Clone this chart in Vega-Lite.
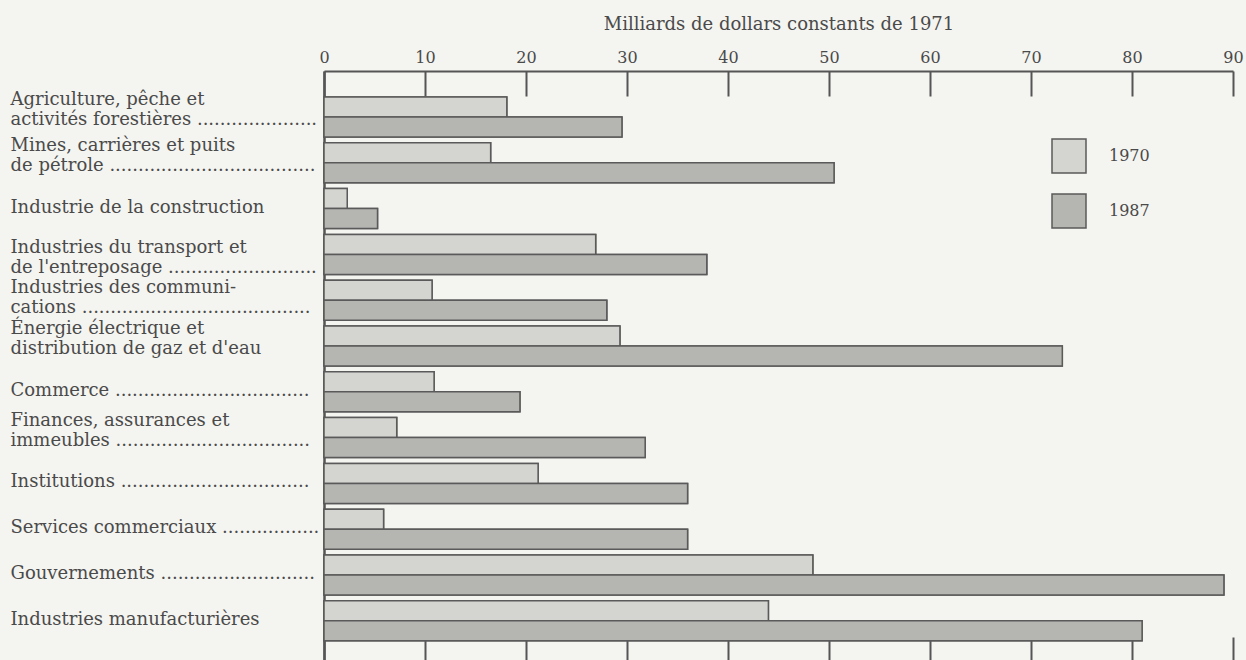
{
  "$schema": "https://vega.github.io/schema/vega-lite/v6.json",
  "width": 909,
  "height": 589,
  "autosize": {"type": "none"},
  "padding": {"left": 324, "top": 71, "right": 13, "bottom": 0},
  "background": "#f4f4f0",
  "config": {
    "view": {"stroke": null},
    "font": "DejaVu Serif",
    "text": {"font": "DejaVu Serif"}
  },
  "data": {
    "values": [
      {"cat": "Agriculture, pêche et|activités forestières  .....................", "year": "1970", "value": 18.1},
      {"cat": "Agriculture, pêche et|activités forestières  .....................", "year": "1987", "value": 29.5},
      {"cat": "Mines, carrières et  puits|de pétrole ....................................", "year": "1970", "value": 16.5},
      {"cat": "Mines, carrières et  puits|de pétrole ....................................", "year": "1987", "value": 50.5},
      {"cat": "Industrie de la construction", "year": "1970", "value": 2.3},
      {"cat": "Industrie de la construction", "year": "1987", "value": 5.3},
      {"cat": "Industries du transport et|de l'entreposage ..........................", "year": "1970", "value": 26.9},
      {"cat": "Industries du transport et|de l'entreposage ..........................", "year": "1987", "value": 37.9},
      {"cat": "Industries des communi-|cations  ........................................", "year": "1970", "value": 10.7},
      {"cat": "Industries des communi-|cations  ........................................", "year": "1987", "value": 28.0},
      {"cat": "Énergie électrique et|distribution de gaz et d'eau", "year": "1970", "value": 29.3},
      {"cat": "Énergie électrique et|distribution de gaz et d'eau", "year": "1987", "value": 73.1},
      {"cat": "Commerce  ..................................", "year": "1970", "value": 10.9},
      {"cat": "Commerce  ..................................", "year": "1987", "value": 19.4},
      {"cat": "Finances, assurances et|immeubles  ..................................", "year": "1970", "value": 7.2},
      {"cat": "Finances, assurances et|immeubles  ..................................", "year": "1987", "value": 31.8},
      {"cat": "Institutions  .................................", "year": "1970", "value": 21.2},
      {"cat": "Institutions  .................................", "year": "1987", "value": 36.0},
      {"cat": "Services commerciaux  .................", "year": "1970", "value": 5.9},
      {"cat": "Services commerciaux  .................", "year": "1987", "value": 36.0},
      {"cat": "Gouvernements  ...........................", "year": "1970", "value": 48.4},
      {"cat": "Gouvernements  ...........................", "year": "1987", "value": 89.1},
      {"cat": "Industries manufacturières", "year": "1970", "value": 44.0},
      {"cat": "Industries manufacturières", "year": "1987", "value": 81.0}
    ]
  },
  "encoding": {
    "y": {
      "field": "cat",
      "type": "nominal",
      "sort": null,
      "scale": {"paddingInner": 0.127, "paddingOuter": 0.4934, "align": 0.575},
      "axis": {
        "title": null,
        "ticks": false,
        "tickSize": 0,
        "domain": true,
        "domainColor": "#555555",
        "domainWidth": 2.5,
        "labelAlign": "left",
        "labelBaseline": "bottom",
        "labelPadding": 314,
        "labelFontSize": 18,
        "labelColor": "#4a4a4a",
        "labelLineHeight": 20,
        "labelLimit": 0,
        "labelOffset": {"condition": [
          {"test": "indexof(datum.value, 'transport') >= 0", "value": 3},
          {"test": "indexof(datum.value, 'communi') >= 0", "value": -3},
          {"test": "indexof(datum.value, '|') >= 0", "value": -8}
        ], "value": 8},
        "labelExpr": "split(datum.label, '|')"
      }
    },
    "yOffset": {
      "field": "year",
      "type": "nominal",
      "scale": {"paddingInner": 0, "paddingOuter": 0}
    },
    "x": {
      "field": "value",
      "type": "quantitative",
      "scale": {"domain": [0, 90], "nice": false}
    },
    "fill": {
      "field": "year",
      "type": "nominal",
      "scale": {"domain": ["1970", "1987"], "range": ["#d4d4d1", "#b5b5b2"]},
      "legend": {
        "title": null,
        "orient": "none",
        "legendX": 727,
        "legendY": 67,
        "padding": 0,
        "symbolType": "square",
        "symbolSize": 1156,
        "symbolStrokeColor": "#5a5a5a",
        "symbolStrokeWidth": 1.5,
        "rowPadding": 15,
        "labelOffset": 22,
        "labelFontSize": 16,
        "labelColor": "#4a4a4a",
        "labelFont": "DejaVu Serif"
      }
    }
  },
  "resolve": {"axis": {"x": "independent"}},
  "layer": [
    {
      "mark": {"type": "bar", "stroke": "#5a5a5a", "strokeWidth": 1.5},
      "encoding": {
        "x": {
          "field": "value",
          "type": "quantitative",
          "scale": {"domain": [0, 90], "nice": false},
          "axis": {
            "orient": "top",
            "values": [0, 10, 20, 30, 40, 50, 60, 70, 80, 90],
            "grid": false,
            "domainColor": "#555555",
            "domainWidth": 2,
            "tickColor": "#555555",
            "tickWidth": 2,
            "tickSize": -25,
            "labelPadding": 34,
            "labelBaseline": "alphabetic",
            "labelFontSize": 16,
            "labelColor": "#4a4a4a",
            "labelFlush": false,
            "title": "Milliards de dollars constants de 1971",
            "titleFontSize": 18,
            "titleFontWeight": "normal",
            "titleColor": "#4a4a4a",
            "titlePadding": 16
          }
        }
      }
    },
    {
      "mark": {"type": "bar", "stroke": "#5a5a5a", "strokeWidth": 1.5},
      "encoding": {
        "x": {
          "field": "value",
          "type": "quantitative",
          "scale": {"domain": [0, 90], "nice": false},
          "axis": {
            "orient": "bottom",
            "values": [0, 10, 20, 30, 40, 50, 60, 70, 80, 90],
            "grid": false,
            "domain": false,
            "labels": false,
            "tickColor": "#555555",
            "tickWidth": 2,
            "tickSize": -23,
            "title": null
          }
        }
      }
    }
  ]
}
